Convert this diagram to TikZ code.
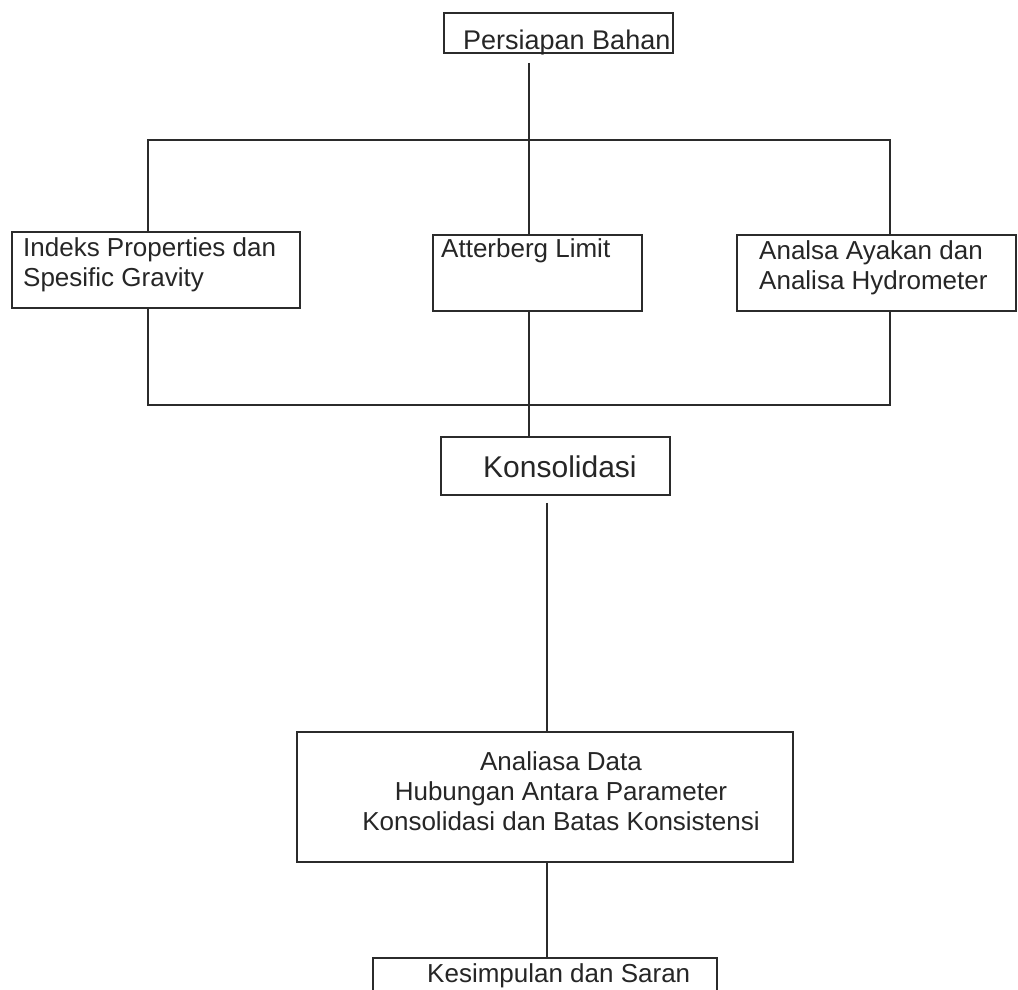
\documentclass[tikz,border=0pt]{standalone}
\usepackage{fontspec}
\setmainfont{Liberation Sans}
\definecolor{ink}{HTML}{2B2B2B}
\definecolor{txt}{HTML}{262626}
\begin{document}
\begin{tikzpicture}[x=1pt,y=-1pt,
  box/.style={draw=ink,line width=1.6pt,rectangle,inner sep=0pt},
  conn/.style={draw=ink,line width=1.5pt},
  lbl/.style={inner sep=0pt,text=txt,font=\fontsize{26}{30}\selectfont},
  biglbl/.style={inner sep=0pt,text=txt,font=\fontsize{30}{34}\selectfont}]
\useasboundingbox[fill=white] (0,0) rectangle (1018,990);
\clip (0,0) rectangle (1018,990);
% boxes
\node[box,minimum width=229pt,minimum height=40pt] (pb) at (558.5,33) {};
\node[box,minimum width=288pt,minimum height=76pt] (ind) at (156,270) {};
\node[box,minimum width=209pt,minimum height=76pt] (att) at (537.5,273) {};
\node[box,minimum width=279pt,minimum height=76pt] (ana) at (876.5,273) {};
\node[box,minimum width=229pt,minimum height=58pt] (kon) at (555.5,466) {};
\node[box,minimum width=496pt,minimum height=130pt] (dat) at (545,797) {};
\node[box,minimum width=344pt,minimum height=52pt] (kes) at (545,984) {};
% texts
\node[lbl,anchor=base west,font=\fontsize{27}{30}\selectfont] (tpb) at (463,50) {Persiapan Bahan};
\node[lbl,anchor=base west] (tind) at (23,256) {\begin{tabular}[t]{@{}l@{}}Indeks Properties dan\\Spesific Gravity\end{tabular}};
\node[lbl,anchor=base west] (tatt) at (441,257) {Atterberg Limit};
\node[lbl,anchor=base west] (tana) at (759,259) {\begin{tabular}[t]{@{}l@{}}Analsa Ayakan dan\\Analisa Hydrometer\end{tabular}};
\node[biglbl,anchor=base west] (tkon) at (483,477) {Konsolidasi};
\node[lbl,anchor=base] (tdat) at (561,770) {\begin{tabular}[t]{@{}c@{}}Analiasa Data\\Hubungan Antara Parameter\\Konsolidasi dan Batas Konsistensi\end{tabular}};
\node[lbl,anchor=base west] (tkes) at (427,982) {Kesimpulan dan Saran};
% junction coordinates
\coordinate (tl) at (148,140);
\coordinate (tm) at (529,140);
\coordinate (tr) at (890,140);
\coordinate (bl) at (148,405);
\coordinate (bm) at (529,405);
\coordinate (br) at (890,405);
\coordinate (cx) at (547,600);
% connectors
\draw[conn] ([yshift=-9pt]pb.south -| tm) -- (tm) -- (att.north -| tm);
\draw[conn] (ind.north -| tl) -- (tl) -- (tr) -- (ana.north -| tr);
\draw[conn] (ind.south -| bl) -- (bl) -- (br) -- (ana.south -| br);
\draw[conn] (att.south -| bm) -- (kon.north -| bm);
\draw[conn] ([yshift=-7pt]kon.south -| cx) -- (dat.north -| cx);
\draw[conn] (dat.south -| cx) -- (kes.north -| cx);
\end{tikzpicture}
\end{document}
